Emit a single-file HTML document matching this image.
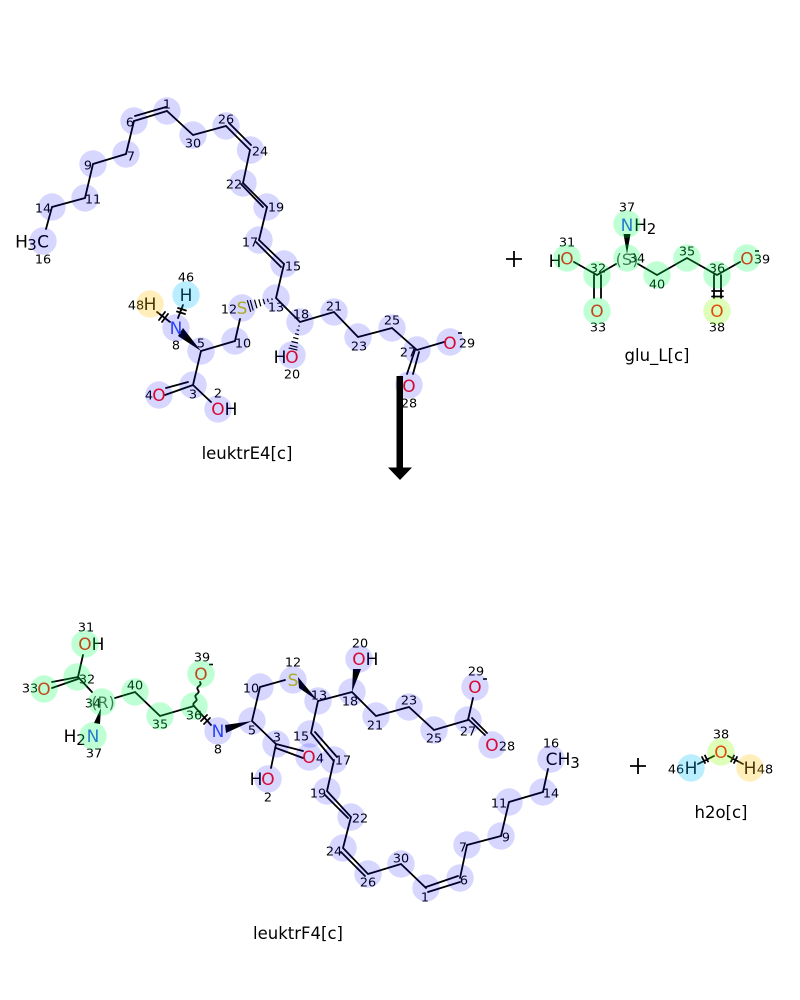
<!DOCTYPE html>
<html><head><meta charset="utf-8"><style>
html,body{margin:0;padding:0;background:#fff}
svg{display:block}
text{font-family:"DejaVu Sans",sans-serif;text-anchor:middle}
.n{font-size:12.8px;fill:#000}
.a{font-size:17px;fill:#000}
.O{font-size:17px;fill:#ff0d0d}
.N{font-size:17px;fill:#3050f8}
.S{font-size:17px;fill:#cccc00}
.t{font-size:16.5px;fill:#000}
.st{font-size:16px;fill:#555}
.b{stroke:#000;stroke-width:1.8;fill:none;stroke-linecap:round}
.h{stroke:#000;stroke-width:1.2;fill:none}
.cb circle{fill:rgba(0,0,255,.16)}
.cg circle{fill:rgba(0,255,85,.25)}
.cc{fill:rgba(0,192,255,.27)}
.cy{fill:rgba(255,192,0,.27)}
.cl{fill:rgba(128,255,0,.27)}
</style></head><body>
<svg width="800" height="1000" viewBox="0 0 800 1000" xmlns="http://www.w3.org/2000/svg">
<rect width="800" height="1000" fill="#fff"/>

<!-- leuktrE4 bonds -->
<g class="b">
<path d="M46 229L52 207L85 198L93 164L126 154L134 121M167 111L193 135L226 126M250 150L243 183M267 207L259 240M284 264L276 298L300 322L334 312L358 337L392 328L417 350L444 342"/>
<path d="M134 121L167 111M135 116L166 107M226 126L250 150M229 123L251 145M243 183L267 207M241 184L263 207M259 240L284 264M256 242L281 267"/>
<path d="M201 351L235 341L240 319M201 351L193 385L211 402M193 385L165 395M166 388L188 382M415 350L407 374M419 352L413 374"/>
<path d="M170 322L157 312M178 318L183 305"/>
<path d="M159 320L165 312M162 322L168 314M177 311.500L185 314M178 308L186 310.500"/>
</g>
<polygon points="201,351 183,328 178,336" fill="#000"/>
<g class="h">
<path d="M271.800 298.300L272.200 300.100M267.400 298.700L268.400 302.100M263.100 299L264.700 304.200M258.800 299.300L260.800 306.300M254.500 299.700L257 308.300M250.200 300L253.200 310.400M247.300 300.200L250.700 311.800"/>
<path d="M298.300 325.800L299.700 326.200M296.600 329.800L299.200 330.400M295 333.700L298.800 334.700M293.200 337.500L298.400 338.900M291.500 341.500L298.100 343.100M289.800 345.300L297.600 347.300M288.600 347.900L297.400 350.100"/>
</g>

<!-- leuktrE4 labels -->
<text class="a" x="21.500" y="247.500">H</text><text class="a" x="32" y="250" style="font-size:15px">3</text><text class="a" x="43" y="247.500">C</text>
<text class="a" x="186" y="301">H</text><text class="a" x="150" y="310">H</text>
<text class="N" x="176" y="334">N</text><text class="S" x="242" y="314">S</text>
<text class="O" x="159" y="401">O</text><text class="O" x="218" y="415">O</text><text class="a" x="231" y="415">H</text>
<text class="a" x="280" y="363">H</text><text class="O" x="292" y="363">O</text>
<text class="O" x="409" y="392">O</text><text class="O" x="450" y="349">O</text>
<path d="M458 333H462" stroke="#000" stroke-width="1.600"/>
<g class="n">
<text x="167" y="108.500">1</text><text x="130" y="126.500">6</text><text x="193" y="147.500">30</text><text x="226" y="123.500">26</text><text x="260" y="155.500">24</text><text x="131" y="160.500">7</text><text x="88" y="169.500">9</text><text x="93" y="203.500">11</text><text x="43" y="212.500">14</text><text x="43" y="263.500">16</text><text x="234" y="188.500">22</text><text x="276" y="211.500">19</text><text x="250" y="246.500">17</text><text x="293" y="270.500">15</text>
<text x="186" y="281.500">46</text><text x="136" y="309.500">48</text><text x="176" y="349.500">8</text><text x="201" y="347.500">5</text><text x="243" y="347.500">10</text><text x="229" y="313.500">12</text><text x="276" y="311.500">13</text><text x="301" y="318.500">18</text><text x="334" y="310.500">21</text><text x="359" y="350.500">23</text><text x="392" y="324.500">25</text><text x="408" y="356.500">27</text><text x="467" y="347.500">29</text><text x="409" y="407.500">28</text><text x="292" y="378.500">20</text><text x="193" y="398.500">3</text><text x="149" y="399.500">4</text><text x="218" y="397.500">2</text>
</g>
<g class="cb">
<circle cx="167" cy="111" r="13.700"/><circle cx="134" cy="121" r="13.700"/><circle cx="193" cy="135" r="13.700"/><circle cx="226" cy="126" r="13.700"/><circle cx="250.500" cy="150" r="13.700"/><circle cx="126" cy="154" r="13.700"/><circle cx="93" cy="164" r="13.700"/><circle cx="85" cy="198" r="13.700"/><circle cx="52" cy="207" r="13.700"/><circle cx="43" cy="241" r="13.700"/><circle cx="243" cy="183" r="13.700"/><circle cx="267" cy="207" r="13.700"/><circle cx="259" cy="240" r="13.700"/><circle cx="284" cy="264" r="13.700"/><circle cx="276" cy="298" r="13.700"/><circle cx="242" cy="308" r="13.700"/><circle cx="235" cy="341" r="13.700"/><circle cx="201" cy="351" r="13.700"/><circle cx="176" cy="328" r="13.700"/><circle cx="193" cy="385" r="13.700"/><circle cx="159" cy="395" r="13.700"/><circle cx="218" cy="409" r="13.700"/><circle cx="300" cy="322" r="13.700"/><circle cx="292" cy="355" r="13.700"/><circle cx="334" cy="312" r="13.700"/><circle cx="358" cy="337" r="13.700"/><circle cx="392" cy="328" r="13.700"/><circle cx="417" cy="350" r="13.700"/><circle cx="409" cy="385" r="13.700"/><circle cx="450" cy="342" r="13.700"/>
</g>
<circle class="cc" cx="186" cy="295" r="13.700"/><circle class="cy" cx="150" cy="304" r="13.700"/>
<text class="t" x="247" y="459">leuktrE4[c]</text>

<!-- arrow -->
<rect x="396.500" y="376" width="6.500" height="92" fill="#000"/>
<polygon points="388,467.500 412,467.500 400,480" fill="#000"/>

<!-- plus -->
<path d="M506 259H522M514 251V267M630 766H646M638 758V774" stroke="#000" stroke-width="1.800"/>

<!-- glu bonds -->
<g class="b">
<path d="M574 262L597 275L616 264M638 264L657 275L687 258L717 275L740 262M594 275V298M601 275V298M714 275V298M721 275V298"/>
<path d="M712 291H723M712 296.500H723"/>
</g>
<polygon points="627,254 623.500,234 630.500,234" fill="#000"/>
<text class="a" x="555" y="267">H</text><text class="O" x="567" y="264.500">O</text>
<text class="N" x="627" y="231">N</text><text class="a" x="640.500" y="231">H</text><text class="a" x="651.500" y="234" style="font-size:15px">2</text>
<text class="st" x="627" y="265">(S)</text>
<text class="O" x="597" y="317">O</text><text class="O" x="717" y="317">O</text><text class="O" x="747" y="264.500">O</text>
<path d="M755 251H759" stroke="#000" stroke-width="1.600"/>
<g class="n">
<text x="627" y="211.500">37</text><text x="637" y="262.500">34</text><text x="567" y="246.500">31</text><text x="598" y="272.500">32</text><text x="598" y="331.500">33</text><text x="657" y="288.500">40</text><text x="687" y="255.500">35</text><text x="717" y="272.500">36</text><text x="717" y="331.500">38</text><text x="762" y="263.500">39</text>
</g>
<g class="cg">
<circle cx="627" cy="224" r="13.700"/><circle cx="627" cy="258" r="13.700"/><circle cx="567" cy="258" r="13.700"/><circle cx="597" cy="275" r="13.700"/><circle cx="597" cy="311" r="13.700"/><circle cx="657" cy="275" r="13.700"/><circle cx="687" cy="258" r="13.700"/><circle cx="717" cy="275" r="13.700"/><circle cx="747" cy="258" r="13.700"/>
</g>
<circle class="cl" cx="717" cy="311" r="13.700"/>
<text class="t" x="657" y="361">glu_L[c]</text>

<!-- leuktrF4 bonds -->
<g class="b">
<path d="M83 655L78 677L92 692M115 698L135 692L160 716L194 706L211 725"/>
<path d="M78 677L52 682M78 679L52 688"/>
<path d="M252 721L276 744L271 768M252 721L260 687L285 680M276 744L303 751M276 748L303 758"/>
<path d="M318 701L352 692L376 716L409 707L434 730L468 720L473 698M318 701L311 733L333 760M315 732L337 757M334 760L327 791L351 817L343 848L368 874L401 864L426 888M325 795L348 818M341 852L365 876M426 887L458 876M428 892L460 882M460 878L467 845L501 836L509 802L543 792L548 769M468 719L485 735M472 718L487 733"/>
<path d="M194 706C191 702 199 702 196 698C193 694 201 694 198 690C195 686 203 686 200 682"/>
<path d="M201 721L207 715M204 724L210 718"/>
<path d="M698 764L714 756M728 756L743 764M705 763L702 757M708 761.500L705 755.500M734 755.500L731 761.500M737 757L734 763"/>
</g>
<polygon points="101,708 94,723 100,724" fill="#000"/>
<polygon points="252,721 225,725 226,733" fill="#000"/>
<polygon points="318,701 298,677 299,688" fill="#000"/>
<polygon points="352,692 353,669 361,669" fill="#000"/>
<text class="O" x="85" y="650">O</text><text class="a" x="98" y="650">H</text>
<text class="O" x="44" y="695">O</text>
<text class="a" x="70" y="742">H</text><text class="a" x="81" y="745" style="font-size:15px">2</text><text class="N" x="93" y="742">N</text>
<text class="st" x="103" y="708">(R)</text>
<text class="O" x="201" y="680">O</text><path d="M209 664.500H213" stroke="#000" stroke-width="1.600"/>
<text class="N" x="218" y="737">N</text><text class="S" x="293" y="686">S</text>
<text class="O" x="309" y="763">O</text>
<text class="a" x="256" y="785">H</text><text class="O" x="268" y="785">O</text>
<text class="O" x="359" y="665">O</text><text class="a" x="372" y="665">H</text>
<text class="O" x="475" y="693">O</text><path d="M483 679H487" stroke="#000" stroke-width="1.600"/>
<text class="O" x="492" y="751">O</text>
<text class="a" x="551.500" y="765">C</text><text class="a" x="564" y="765">H</text><text class="a" x="575" y="768" style="font-size:15px">3</text>
<g class="n">
<text x="86" y="631.500">31</text><text x="87" y="683.500">32</text><text x="30" y="692.500">33</text><text x="93" y="707.500">34</text><text x="94" y="757.500">37</text><text x="135" y="689.500">40</text><text x="160" y="728.500">35</text><text x="194" y="719.500">36</text><text x="202" y="661.500">39</text><text x="218" y="753.500">8</text><text x="252" y="734.500">5</text><text x="251" y="692.500">10</text><text x="293" y="666.500">12</text><text x="319" y="699.500">13</text><text x="277" y="741.500">3</text><text x="320" y="762.500">4</text><text x="268" y="801.500">2</text><text x="301" y="740.500">15</text><text x="343" y="764.500">17</text><text x="350" y="705.500">18</text><text x="360" y="647.500">20</text><text x="375" y="729.500">21</text><text x="409" y="704.500">23</text><text x="434" y="742.500">25</text><text x="468" y="735.500">27</text><text x="476" y="675.500">29</text><text x="507" y="750.500">28</text><text x="551" y="747.500">16</text><text x="551" y="797.500">14</text><text x="499" y="807.500">11</text><text x="506" y="841.500">9</text><text x="463" y="851.500">7</text><text x="464" y="884.500">6</text><text x="425" y="901.500">1</text><text x="401" y="862.500">30</text><text x="368" y="886.500">26</text><text x="334" y="855.500">24</text><text x="360" y="822.500">22</text><text x="318" y="797.500">19</text>
</g>
<g class="cg">
<circle cx="85" cy="644" r="13.700"/><circle cx="77" cy="677" r="13.700"/><circle cx="44" cy="689" r="13.700"/><circle cx="102" cy="702" r="13.700"/><circle cx="93" cy="736" r="13.700"/><circle cx="135" cy="692" r="13.700"/><circle cx="160" cy="716" r="13.700"/><circle cx="194" cy="706" r="13.700"/><circle cx="201" cy="674" r="13.700"/>
</g>
<g class="cb">
<circle cx="218" cy="731" r="13.700"/><circle cx="252" cy="721" r="13.700"/><circle cx="260" cy="687" r="13.700"/><circle cx="293" cy="680" r="13.700"/><circle cx="276" cy="744" r="13.700"/><circle cx="309" cy="757" r="13.700"/><circle cx="268" cy="779" r="13.700"/><circle cx="318" cy="701" r="13.700"/><circle cx="352" cy="692" r="13.700"/><circle cx="359" cy="659" r="13.700"/><circle cx="376" cy="716" r="13.700"/><circle cx="409" cy="707" r="13.700"/><circle cx="434" cy="730" r="13.700"/><circle cx="468" cy="720" r="13.700"/><circle cx="475" cy="687" r="13.700"/><circle cx="492" cy="745" r="13.700"/><circle cx="310" cy="734" r="13.700"/><circle cx="334" cy="760" r="13.700"/><circle cx="327" cy="791" r="13.700"/><circle cx="351" cy="817" r="13.700"/><circle cx="343" cy="848" r="13.700"/><circle cx="368" cy="874" r="13.700"/><circle cx="401" cy="864" r="13.700"/><circle cx="426" cy="888" r="13.700"/><circle cx="460" cy="878" r="13.700"/><circle cx="467" cy="845" r="13.700"/><circle cx="501" cy="836" r="13.700"/><circle cx="509" cy="802" r="13.700"/><circle cx="543" cy="792" r="13.700"/><circle cx="551" cy="759" r="13.700"/>
</g>
<text class="t" x="298" y="939">leuktrF4[c]</text>

<!-- water -->
<text class="O" x="721" y="758">O</text><text class="a" x="691" y="774">H</text><text class="a" x="750" y="774">H</text>
<g class="n"><text x="721" y="738.500">38</text><text x="676" y="773.500">46</text><text x="765" y="773.500">48</text></g>
<circle class="cl" cx="721" cy="752" r="13.700"/><circle class="cc" cx="691" cy="768" r="13.700"/><circle class="cy" cx="750" cy="768" r="13.700"/>
<text class="t" x="721" y="818">h2o[c]</text>
</svg>
</body></html>
